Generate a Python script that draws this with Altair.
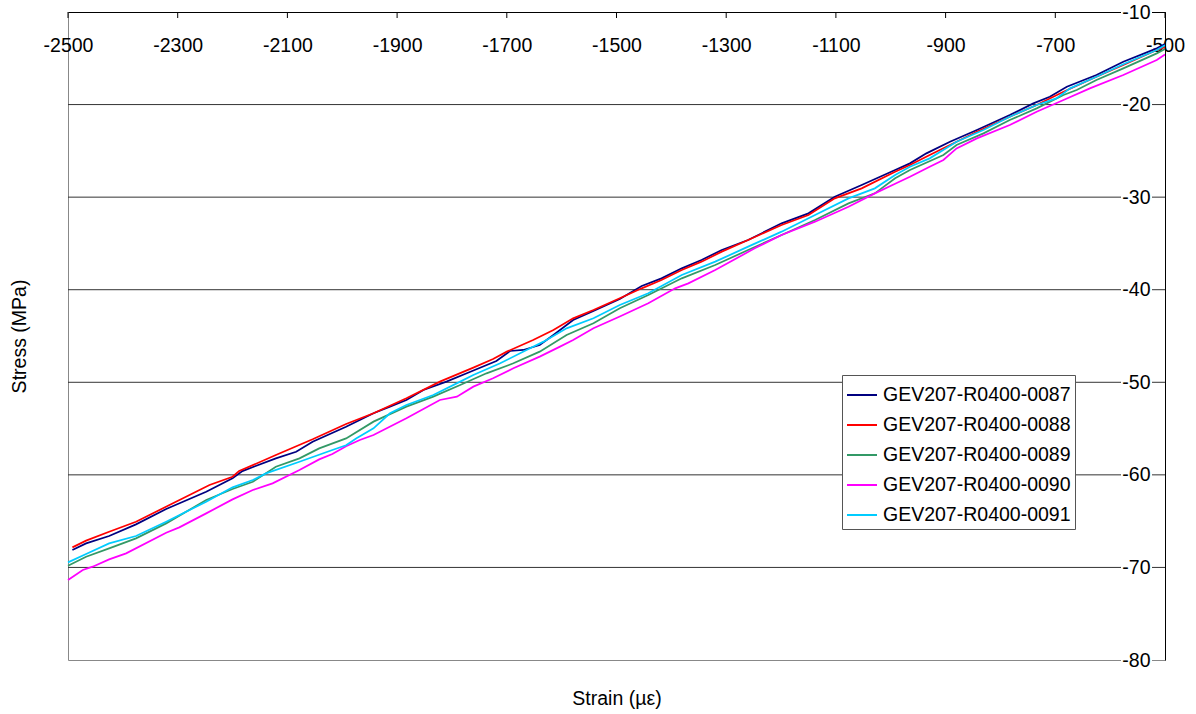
import altair as alt
import pandas as pd

# Stress-strain readings per specimen (strain in µε, stress in MPa)
SPECIMENS = [
    "GEV207-R0400-0087",
    "GEV207-R0400-0088",
    "GEV207-R0400-0089",
    "GEV207-R0400-0090",
    "GEV207-R0400-0091",
]
COLORS = ["#000080", "#FF0000", "#339966", "#FF00FF", "#00CCFF"]

STRAIN_0087 = [-2492, -2467, -2425, -2376, -2321, -2248, -2200, -2182, -2121, -2084,
               -2054, -1993, -1968, -1943, -1913, -1883, -1852, -1810, -1773, -1719,
               -1694, -1670, -1640, -1615, -1579, -1542, -1494, -1454, -1418, -1381,
               -1345, -1308, -1260, -1199, -1150, -1102, -1053, -992, -965, -935,
               -892, -843, -783, -740, -710, -679, -625, -576, -515, -500]
STRESS_0087 = [-68.12, -67.40, -66.61, -65.35, -63.69, -61.82, -60.38, -59.59, -58.22, -57.50,
               -56.42, -54.80, -54.07, -53.35, -52.63, -51.91, -50.83, -49.93, -49.03, -47.70,
               -46.62, -46.51, -45.97, -44.89, -43.27, -42.30, -41.00, -39.60, -38.77, -37.69,
               -36.79, -35.71, -34.63, -32.83, -31.75, -29.95, -28.69, -27.07, -26.35, -25.27,
               -24.01, -22.75, -21.13, -19.87, -19.15, -18.07, -16.81, -15.37, -13.93, -13.45]

STRAIN_0088 = [-2492, -2467, -2425, -2376, -2315, -2242, -2200, -2188, -2121, -2054,
               -1993, -1943, -1883, -1822, -1761, -1725, -1700, -1652, -1615, -1579,
               -1542, -1494, -1454, -1418, -1381, -1345, -1308, -1260, -1199, -1150,
               -1102, -1053, -992, -965, -929, -892, -843, -783, -734, -685,
               -625, -576, -515, -500]
STRESS_0088 = [-67.83, -67.11, -66.14, -65.06, -63.26, -61.10, -60.20, -59.59, -57.86, -56.16,
               -54.51, -53.35, -51.73, -49.93, -48.42, -47.48, -46.69, -45.43, -44.35, -43.09,
               -42.19, -40.93, -39.85, -38.95, -37.87, -36.97, -35.89, -34.63, -33.01, -31.93,
               -30.13, -29.05, -27.25, -26.53, -25.45, -24.37, -22.93, -21.31, -20.05, -18.61,
               -16.99, -15.73, -14.11, -13.80]

STRAIN_0089 = [-2500, -2467, -2425, -2376, -2321, -2248, -2200, -2163, -2121, -2078,
               -2042, -1993, -1943, -1883, -1834, -1785, -1737, -1688, -1640, -1591,
               -1542, -1494, -1442, -1381, -1320, -1260, -1199, -1138, -1077, -1029,
               -992, -965, -904, -880, -831, -783, -734, -685, -661, -625,
               -576, -515, -500]
STRESS_0089 = [-69.81, -68.84, -67.94, -66.86, -65.24, -62.72, -61.53, -60.74, -59.12, -58.22,
               -57.14, -56.06, -54.25, -52.63, -51.55, -50.29, -49.03, -47.95, -46.69, -44.89,
               -43.63, -42.01, -40.57, -38.77, -37.33, -35.71, -34.09, -32.47, -30.67, -29.59,
               -27.97, -27.07, -25.45, -24.37, -23.11, -21.67, -20.41, -18.97, -18.43, -17.35,
               -16.09, -14.47, -14.00]

STRAIN_0090 = [-2500, -2473, -2455, -2425, -2394, -2321, -2297, -2248, -2200, -2163,
               -2127, -2078, -2042, -2018, -1993, -1968, -1943, -1883, -1822, -1791,
               -1761, -1725, -1688, -1640, -1603, -1579, -1542, -1494, -1442, -1393,
               -1369, -1320, -1248, -1199, -1138, -1077, -1029, -992, -965, -929,
               -904, -880, -843, -783, -734, -685, -637, -576, -515, -500]
STRESS_0090 = [-71.36, -70.28, -69.92, -69.13, -68.48, -66.25, -65.67, -64.16, -62.65, -61.64,
               -60.92, -59.48, -58.33, -57.75, -56.90, -56.23, -55.69, -53.89, -51.91, -51.55,
               -50.47, -49.57, -48.49, -47.23, -46.15, -45.43, -44.17, -42.90, -41.47, -39.85,
               -39.31, -37.87, -35.53, -34.09, -32.65, -31.03, -29.59, -28.55, -27.79, -26.71,
               -25.99, -24.73, -23.65, -22.21, -20.77, -19.51, -18.25, -16.81, -15.19, -14.60]

STRAIN_0091 = [-2500, -2467, -2425, -2376, -2321, -2248, -2200, -2163, -2139, -2078,
               -2018, -1993, -1974, -1943, -1913, -1883, -1834, -1785, -1761, -1712,
               -1664, -1633, -1591, -1542, -1494, -1442, -1381, -1320, -1260, -1199,
               -1138, -1077, -1029, -992, -965, -929, -880, -831, -783, -734,
               -698, -673, -625, -576, -515, -500]
STRESS_0091 = [-69.45, -68.55, -67.40, -66.61, -65.06, -62.90, -61.35, -60.56, -59.84, -58.58,
               -57.32, -56.80, -56.05, -54.97, -53.35, -52.45, -51.37, -49.93, -49.21, -47.95,
               -46.51, -45.61, -44.17, -43.09, -41.65, -40.39, -38.41, -36.97, -35.35, -33.73,
               -31.93, -30.13, -29.05, -27.61, -26.71, -25.81, -24.01, -22.75, -21.31, -20.05,
               -19.33, -18.25, -16.99, -15.65, -14.11, -13.60]

X_TICKS = [-2500, -2300, -2100, -1900, -1700, -1500, -1300, -1100, -900, -700, -500]
Y_TICKS = [-80, -70, -60, -50, -40, -30, -20, -10]
GRID_LINES = [-70, -60, -50, -40, -30, -20]

STRAINS = [STRAIN_0087, STRAIN_0088, STRAIN_0089, STRAIN_0090, STRAIN_0091]
STRESSES = [STRESS_0087, STRESS_0088, STRESS_0089, STRESS_0090, STRESS_0091]

rows = []
for name, xs, ys in zip(SPECIMENS, STRAINS, STRESSES):
    for i, (x, y) in enumerate(zip(xs, ys)):
        rows.append({"specimen": name, "strain": x, "stress": y, "seq": i})
curves = pd.DataFrame(rows)

W, H = 1097, 648
FONT = "Liberation Sans"
FS = 19.5
PLAIN_NUMBER = "'' + datum.value"  # ASCII hyphen for negatives

x_scale = alt.Scale(domain=[-2500, -500], nice=False, zero=False)
y_scale = alt.Scale(domain=[-80, -10], nice=False, zero=False)

# strain labels sit inside the plot under the top axis line
x_axis = alt.Axis(
    orient="top", values=X_TICKS, labelExpr=PLAIN_NUMBER, title="Strain (µε)",
    grid=False, ticks=False, domain=True, domainColor="black", domainWidth=1,
    labelFont=FONT, labelFontSize=FS, labelColor="black",
    labelPadding=-33, labelBaseline="middle", labelFlush=False, labelOverlap=False,
    titleFont=FONT, titleFontSize=FS, titleFontWeight="normal", titleColor="black",
    titleX=W / 2, titleY=692, titleAlign="center", titleBaseline="alphabetic",
    titleAngle=0, zindex=0,
)
# stress labels sit inside the plot to the left of the right axis line
y_axis = alt.Axis(
    orient="right", values=Y_TICKS, labelExpr=PLAIN_NUMBER, title="Stress (MPa)",
    grid=False, ticks=False, domain=True, domainColor="black", domainWidth=1,
    labelFont=FONT, labelFontSize=FS, labelColor="black",
    labelPadding=-15, labelAlign="right", labelBaseline="middle",
    labelFlush=False, labelOverlap=False,
    titleFont=FONT, titleFontSize=FS, titleFontWeight="normal", titleColor="black",
    titleX=-1146, titleY=H / 2, titleAlign="center", titleBaseline="middle",
    titleAngle=270, zindex=1,
)

grid = alt.Chart(pd.DataFrame({"v": GRID_LINES})).mark_rule(
    color="#333333", strokeWidth=1
).encode(y=alt.Y("v:Q", scale=y_scale, axis=y_axis))

top_ticks = alt.Chart(pd.DataFrame({"v": X_TICKS})).mark_rule(
    color="black", strokeWidth=1
).encode(
    x=alt.X("v:Q", scale=x_scale, axis=x_axis),
    y=alt.value(0),
    y2=alt.value(6),
)

lines = alt.Chart(curves).mark_line(strokeWidth=1.75).encode(
    x=alt.X("strain:Q", scale=x_scale, axis=x_axis),
    y=alt.Y("stress:Q", scale=y_scale, axis=y_axis),
    color=alt.Color(
        "specimen:N",
        scale=alt.Scale(domain=SPECIMENS, range=COLORS),
        title=None,
        legend=alt.Legend(
            orient="none", legendX=774, legendY=363,
            fillColor="white", strokeColor="#555555", padding=4, cornerRadius=0,
            symbolType="stroke", symbolSize=900, symbolStrokeWidth=2,
            labelFont=FONT, labelFontSize=FS, labelColor="black", labelOffset=5,
            labelLimit=400, rowPadding=4,
        ),
    ),
    order="seq:Q",
)

# white boxes so the stress labels sit over the grid lines
label_bg = alt.Chart(pd.DataFrame({"v": Y_TICKS})).mark_rect(
    color="white", yOffset=-9, y2Offset=9
).encode(
    x=alt.value(1053),
    x2=alt.value(1084),
    y=alt.Y("v:Q", scale=y_scale, axis=y_axis),
    y2=alt.Y2("v"),
)

chart = alt.layer(grid, lines, label_bg, top_ticks).properties(
    width=W,
    height=H,
    padding={"left": 68, "top": 12, "right": 31, "bottom": 54},
    autosize=alt.AutoSizeParams(type="none"),
    background="white",
).configure_view(stroke="#888888", strokeWidth=1)

chart.save("out.html", embed_options={"renderer": "svg", "actions": False})
